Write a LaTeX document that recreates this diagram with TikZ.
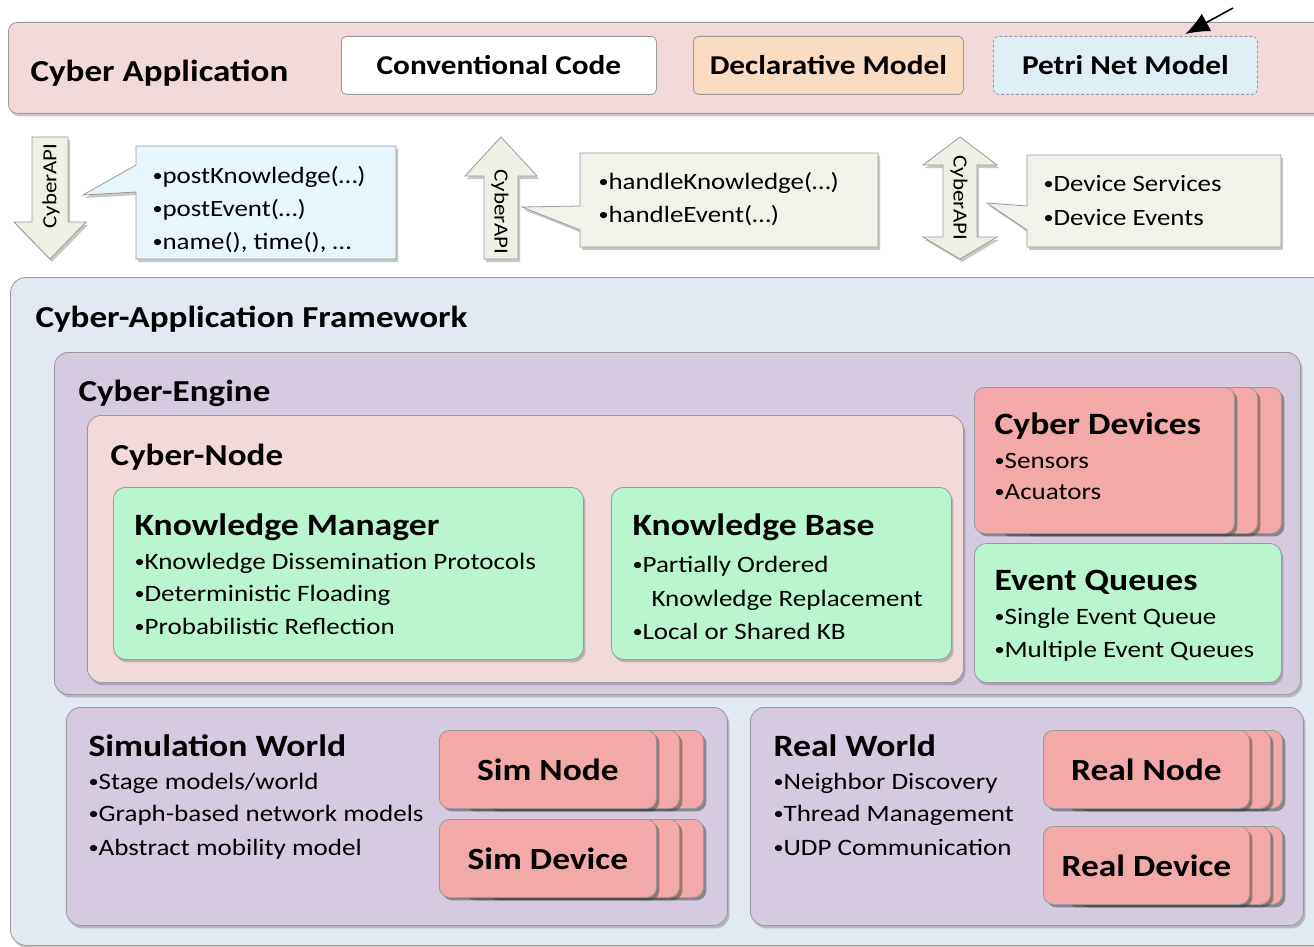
\documentclass[tikz,border=0pt]{standalone}
\usepackage{fontspec}
\usepackage{graphicx}
\setmainfont{Carlito}[FakeStretch=1.15]
\usetikzlibrary{shadows,arrows.meta}
\definecolor{barpink}{HTML}{F2DADB}
\definecolor{nodepink}{HTML}{F2D9DA}
\definecolor{fwblue}{HTML}{E2E9F3}
\definecolor{lav}{HTML}{D5CAE0}
\definecolor{mint}{HTML}{B9F6D0}
\definecolor{salmon}{HTML}{F2A9A7}
\definecolor{peach}{HTML}{FADCC2}
\definecolor{petri}{HTML}{DFEEF5}
\definecolor{calblue}{HTML}{E6F6FC}
\definecolor{beige}{HTML}{F3F2EA}
\definecolor{arrfill}{HTML}{EFEFE6}
\definecolor{edge}{HTML}{9A9A9A}
\newcommand\bul{\raisebox{0.07em}{\scalebox{0.75}{•}}}
\tikzset{
  shad/.style={drop shadow={shadow xshift=2pt,shadow yshift=-3pt,opacity=0.3,fill=black!70}},
  cshad/.style={drop shadow={shadow xshift=3pt,shadow yshift=-3pt,opacity=0.45,fill=black!80}},
  box/.style={draw=edge,line width=0.8pt,rounded corners=9pt,anchor=north west,inner sep=0pt},
  apibox/.style={draw=edge,line width=0.8pt,rounded corners=5pt,font=\fontsize{27.2}{30}\selectfont\bfseries},
  ttl/.style={anchor=base west,font=\fontsize{30.5}{33}\selectfont\bfseries},
  bigttl/.style={anchor=base west,font=\fontsize{31}{34}\selectfont\bfseries},
  item/.style={anchor=base west,font=\fontsize{23.5}{26}\selectfont},
  citem/.style={anchor=base west,font=\fontsize{23.4}{26}\selectfont},
  card/.style={box,fill=salmon,rounded corners=10pt,cshad},
  cardtxt/.style={font=\fontsize{30.8}{33}\selectfont\bfseries},
  apiarrow/.style={fill=arrfill,draw=edge,line width=0.8pt,shad},
  apitxt/.style={font=\fontsize{20}{22}\selectfont},
  callout/.style={draw=edge,line width=0.8pt,shad},
}
\begin{document}
\begin{tikzpicture}[x=1pt,y=-1pt]
\useasboundingbox (0,0) rectangle (1314,947);
\fill[white] (0,0) rectangle (1314,947);
% ---------- top bar
\node[box,fill=barpink,shad,minimum width=1340,minimum height=91] (app) at (8,22) {};
\node[bigttl,font=\fontsize{30.5}{33}\selectfont\bfseries] (apptitle) at (27,82) {Cyber Application};
\node[apibox,fill=white,minimum width=315,minimum height=58,anchor=north west] (conv) at (341,36) {Conventional Code};
\node[apibox,fill=peach,minimum width=270,minimum height=58,anchor=north west] (decl) at (693,36) {Declarative Model};
\node[apibox,fill=petri,densely dashed,minimum width=264,minimum height=58,anchor=north west] (petrinet) at (993,36) {Petri Net Model};
\coordinate (aend) at (1233,8);
\draw[line width=1.6pt,-{Latex[length=24pt,width=20pt]}] (aend) -- ([xshift=60pt,yshift=2pt]petrinet.north);
% ---------- API arrows
\draw[apiarrow] (32,137) -- (68,137) -- (68,222) -- (86,222) -- (50,259) -- (14,222) -- (32,222) -- cycle;
\node[apitxt,rotate=90] (api1) at (51,186) {CyberAPI};
\draw[apiarrow] (484,259) -- (518,259) -- (518,176) -- (537,176) -- (501,137) -- (465,176) -- (484,176) -- cycle;
\node[apitxt,rotate=-90] (api2) at (500,212) {CyberAPI};
\draw[apiarrow] (960,137) -- (997,165) -- (977,165) -- (977,237) -- (997,237) -- (960,259) -- (923,237) -- (943,237) -- (943,165) -- (923,165) -- cycle;
\node[apitxt,rotate=-90] (api3) at (959,198) {CyberAPI};
% ---------- callouts
\draw[callout,fill=calblue] (136,146) -- (396,146) -- (396,259) -- (136,259) -- (136,192) -- (83,195) -- (136,165) -- cycle;
\node[citem] (c1a) at (149,183) {\bul postKnowledge(…)};
\node[citem] (c1b) at (149,216) {\bul postEvent(…)};
\node[citem] (c1c) at (149,249) {\bul name(), time(), …};
\draw[callout,fill=beige] (580,153) -- (878,153) -- (878,247) -- (580,247) -- (580,230) -- (522,207) -- (580,206) -- cycle;
\node[citem] (c2a) at (595,189) {\bul handleKnowledge(…)};
\node[citem] (c2b) at (595,222) {\bul handleEvent(…)};
\draw[callout,fill=beige] (1027,155) -- (1281,155) -- (1281,247) -- (1027,247) -- (1027,230) -- (987,203) -- (1027,206) -- cycle;
\node[citem] (c3a) at (1040,191) {\bul Device Services};
\node[citem] (c3b) at (1040,225) {\bul Device Events};
% ---------- framework
\node[box,fill=fwblue,rounded corners=16pt,shad,minimum width=1340,minimum height=668] (fw) at (10,277) {};
\node[ttl] (fwtitle) at (32,327) {Cyber-Application Framework};
\node[box,fill=lav,rounded corners=14pt,shad,minimum width=1246,minimum height=342] (engine) at (54,352) {};
\node[ttl] (enginetitle) at (75,401) {Cyber-Engine};
\node[box,fill=nodepink,rounded corners=14pt,shad,minimum width=876,minimum height=267] (cnode) at (87,415) {};
\node[ttl] (cnodetitle) at (107,465) {Cyber-Node};
% knowledge manager
\node[box,fill=mint,rounded corners=12pt,shad,minimum width=470,minimum height=172] (km) at (113,487) {};
\node[bigttl] (kmt) at (131,535) {Knowledge Manager};
\node[item] (km1) at (131,569) {\bul Knowledge Dissemination Protocols};
\node[item] (km2) at (131,601) {\bul Deterministic Floading};
\node[item] (km3) at (131,634) {\bul Probabilistic Reflection};
% knowledge base
\node[box,fill=mint,rounded corners=12pt,shad,minimum width=340,minimum height=172] (kb) at (611,487) {};
\node[bigttl] (kbt) at (629,535) {Knowledge Base};
\node[item] (kb1) at (629,572) {\bul Partially Ordered};
\node[item] (kb2) at (648,606) {Knowledge Replacement};
\node[item] (kb3) at (629,639) {\bul Local or Shared KB};
% cyber devices
\node[card,minimum width=260,minimum height=146] (cd3) at (1021,387) {};
\node[card,minimum width=260,minimum height=146] (cd2) at (997,387) {};
\node[card,minimum width=260,minimum height=146] (cd) at (974,387) {};
\node[bigttl] (cdt) at (991,434) {Cyber Devices};
\node[item] (cd1) at (991,468) {\bul Sensors};
\node[item] (cd2t) at (991,499) {\bul Acuators};
% event queues
\node[box,fill=mint,rounded corners=12pt,shad,minimum width=307,minimum height=139] (eq) at (974,543) {};
\node[bigttl] (eqt) at (991,590) {Event Queues};
\node[item] (eq1) at (991,624) {\bul Single Event Queue};
\node[item] (eq2) at (991,657) {\bul Multiple Event Queues};
% simulation world
\node[box,fill=lav,rounded corners=14pt,shad,minimum width=661,minimum height=218] (sim) at (66,707) {};
\node[bigttl] (simt) at (85,756) {Simulation World};
\node[item] (sim1) at (85,789) {\bul Stage models/world};
\node[item] (sim2) at (85,821) {\bul Graph-based network models};
\node[item] (sim3) at (85,855) {\bul Abstract mobility model};
\node[card,minimum width=217,minimum height=78] (sn3) at (486,730) {};
\node[card,minimum width=217,minimum height=78] (sn2) at (462,730) {};
\node[card,minimum width=217,minimum height=78] (sn) at (439,730) {};
\node[cardtxt] (snt) at (sn.center) {Sim Node};
\node[card,minimum width=217,minimum height=78] (sd3) at (486,819) {};
\node[card,minimum width=217,minimum height=78] (sd2) at (462,819) {};
\node[card,minimum width=217,minimum height=78] (sd) at (439,819) {};
\node[cardtxt] (sdt) at (sd.center) {Sim Device};
% real world
\node[box,fill=lav,rounded corners=14pt,shad,minimum width=553,minimum height=218] (real) at (750,707) {};
\node[bigttl] (realt) at (770,756) {Real World};
\node[item] (real1) at (770,789) {\bul Neighbor Discovery};
\node[item] (real2) at (770,821) {\bul Thread Management};
\node[item] (real3) at (770,855) {\bul UDP Communication};
\node[card,minimum width=206,minimum height=78] (rn3) at (1076,730) {};
\node[card,minimum width=206,minimum height=78] (rn2) at (1064,730) {};
\node[card,minimum width=206,minimum height=78] (rn) at (1043,730) {};
\node[cardtxt] (rnt) at (rn.center) {Real Node};
\node[card,minimum width=206,minimum height=78] (rd3) at (1076,826) {};
\node[card,minimum width=206,minimum height=78] (rd2) at (1064,826) {};
\node[card,minimum width=206,minimum height=78] (rd) at (1043,826) {};
\node[cardtxt] (rdt) at (rd.center) {Real Device};
\end{tikzpicture}
\end{document}
